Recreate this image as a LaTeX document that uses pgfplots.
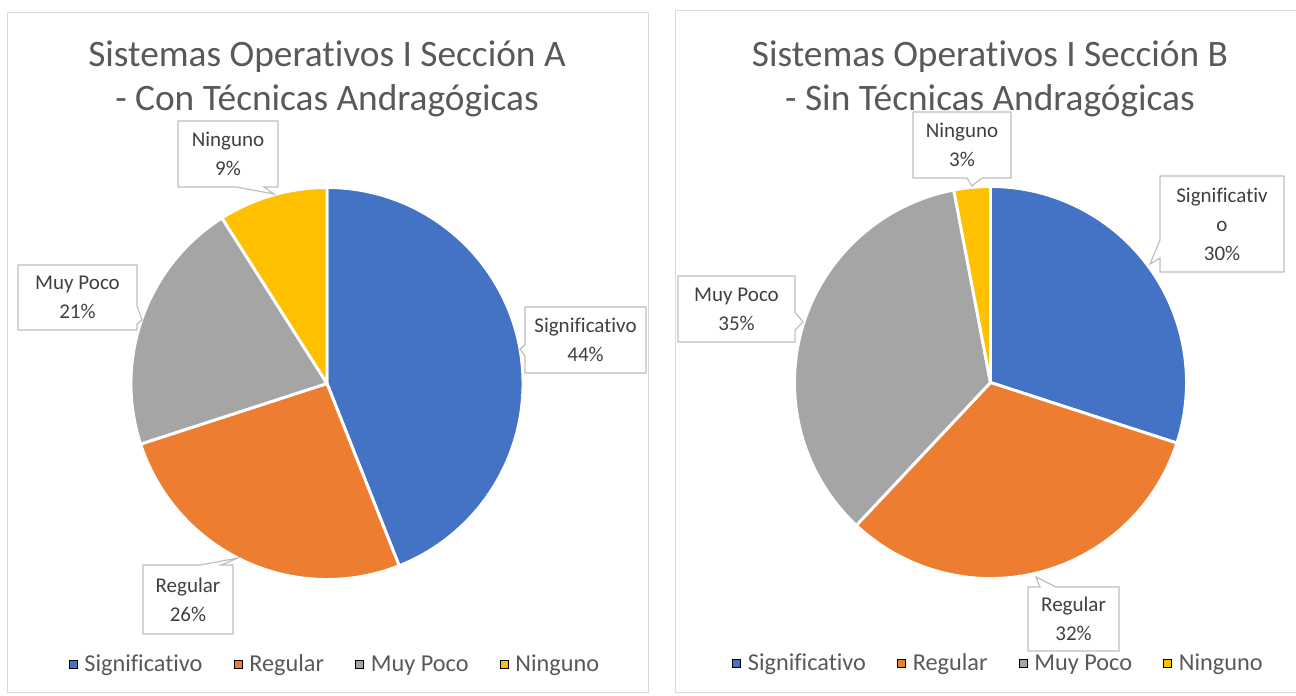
\documentclass[border=0pt]{standalone}
\usepackage{pgfplots}
\pgfplotsset{compat=1.18}
\usepackage{pgfplotstable}
\usepackage{fontspec}
\setmainfont{Carlito}[Ligatures=NoCommon, RawFeature={-calt}]
\definecolor{c0}{HTML}{4472C4}
\definecolor{c1}{HTML}{ED7D31}
\definecolor{c2}{HTML}{A5A5A5}
\definecolor{c3}{HTML}{FFC000}
\definecolor{titlegray}{HTML}{595959}
\definecolor{labgray}{HTML}{404040}
\definecolor{boxgray}{HTML}{BFBFBF}
\definecolor{framegray}{HTML}{D9D9D9}

\pgfplotstableread{
label value
Significativo 44
Regular 26
MuyPoco 21
Ninguno 9
}\dataA
\pgfplotstableread{
label value
Significativo 30
Regular 32
MuyPoco 35
Ninguno 3
}\dataB

\newcommand\drawpie[1]{%
  \gdef\cum{0}%
  \pgfplotsforeachungrouped \i in {0,1,2,3}{%
    \pgfplotstablegetelem{\i}{value}\of{#1}%
    \let\val\pgfplotsretval
    \pgfmathsetmacro\sa{90-3.6*\cum}%
    \pgfmathsetmacro\ea{90-3.6*(\cum+\val)}%
    \pgfmathsetmacro\xs{196*cos(\sa)}%
    \pgfmathsetmacro\ys{196*sin(\sa)}%
    \pgfmathsetmacro\newcum{\cum+\val}%
    \xdef\cum{\newcum}%
    \edef\temp{\noexpand\filldraw[fill=c\i, draw=white, line width=2.2pt, line join=round] (axis cs:0,0) -- (axis cs:\xs,\ys) arc[start angle=\sa, end angle=\ea, radius=147pt] -- cycle;}%
    \temp
  }%
}

\pgfplotsset{
  pieaxis/.style={
    anchor=center, x=0.75pt, y=0.75pt,
    xmin=-300, xmax=300, ymin=-300, ymax=300,
    hide axis, clip=false, scale only axis,
    legend columns=4,
    legend image code/.code={\fill[##1] (0pt,-3pt) rectangle (6pt,3pt);},
    legend style={draw=none, fill=none, text=titlegray,
      font=\fontsize{18.2}{22}\selectfont,
      nodes={inner xsep=0pt, inner ysep=2pt},
      /tikz/every odd column/.append style={column sep=5.25pt},
      /tikz/every even column/.append style={column sep=23.5pt}},
  }
}

\tikzset{
  lab/.style={text=labgray, font=\fontsize{15.75}{21.75}\selectfont, align=center, inner sep=0pt},
  callout/.style={draw=boxgray, fill=white, line width=0.9pt},
  ttl/.style={text=titlegray, font=\fontsize{28}{33}\selectfont, anchor=base, inner sep=0pt},
}

\begin{document}
\begin{tikzpicture}[x=0.75pt, y=-0.75pt]
\useasboundingbox (0,0) rectangle (1296,696);
\fill[white] (0,0) rectangle (1296,696);
% chart frames
\draw[framegray, line width=0.75pt] (7,12) rectangle (648,692);
\draw[framegray, line width=0.75pt] (675,10) rectangle (1310,692);

\coordinate (cA) at (327,383.5);
\coordinate (cB) at (990.5,382.5);

\begin{axis}[pieaxis, at={(cA)},
  legend style={at={(axis cs:7,-281)}, anchor=center}]
  \drawpie{\dataA}
  \addlegendimage{fill=c0}\addlegendentry{Significativo}
  \addlegendimage{fill=c1}\addlegendentry{Regular}
  \addlegendimage{fill=c2}\addlegendentry{Muy Poco}
  \addlegendimage{fill=c3}\addlegendentry{Ninguno}
\end{axis}

\begin{axis}[pieaxis, at={(cB)},
  legend style={at={(axis cs:7,-281)}, anchor=center}]
  \drawpie{\dataB}
  \addlegendimage{fill=c0}\addlegendentry{Significativo}
  \addlegendimage{fill=c1}\addlegendentry{Regular}
  \addlegendimage{fill=c2}\addlegendentry{Muy Poco}
  \addlegendimage{fill=c3}\addlegendentry{Ninguno}
\end{axis}

% titles
\node[ttl] at (327,66) {Sistemas Operativos I Sección A};
\node[ttl] at (327,110) {- Con Técnicas Andragógicas};
\node[ttl] at (990,66) {Sistemas Operativos I Sección B};
\node[ttl] at (990,110) {- Sin Técnicas Andragógicas};

% callouts chart A
\draw[callout] (525,307) -- (646,307) -- (646,373) -- (525,373) -- (525,356) -- (520,349) -- (525,345) -- cycle;
\node[lab] at (585.5,340) {Significativo\\44\%};
\draw[callout] (178,121) -- (278,121) -- (278,187) -- (264,187) -- (274,194) -- (236,187) -- (178,187) -- cycle;
\node[lab] at (228,154) {Ninguno\\9\%};
\draw[callout] (18,265) -- (137,265) -- (137,306) -- (142,320) -- (137,324) -- (137,330) -- (18,330) -- cycle;
\node[lab] at (77.5,297.5) {Muy Poco\\21\%};
\draw[callout] (143,565) -- (200,565) -- (238,558) -- (221,565) -- (233,565) -- (233,634) -- (143,634) -- cycle;
\node[lab] at (188,599.5) {Regular\\26\%};

% callouts chart B
\draw[callout] (913,112) -- (1011,112) -- (1011,178) -- (982,178) -- (972,186) -- (967,178) -- (913,178) -- cycle;
\node[lab] at (962,145) {Ninguno\\3\%};
\draw[callout] (1160,176) -- (1284,176) -- (1284,272) -- (1160,272) -- (1160,258) -- (1150,264) -- (1160,240) -- cycle;
\node[lab] at (1222,224) {Significativ\\o\\30\%};
\draw[callout] (678,276) -- (795,276) -- (795,312) -- (803,322) -- (795,330) -- (795,342) -- (678,342) -- cycle;
\node[lab] at (736.5,309) {Muy Poco\\35\%};
\draw[callout] (1028,587) -- (1040,587) -- (1036,577) -- (1056,587) -- (1119,587) -- (1119,651) -- (1028,651) -- cycle;
\node[lab] at (1073.5,619) {Regular\\32\%};
\end{tikzpicture}
\end{document}
